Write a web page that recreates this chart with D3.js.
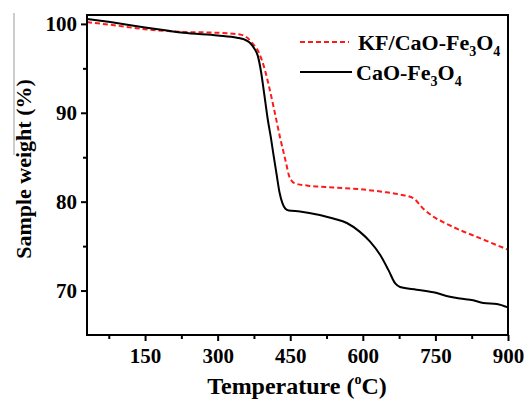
<!DOCTYPE html>
<html lang="en">
<head>
<meta charset="UTF-8">
<title>TGA</title>
<script src="https://d3js.org/d3.v7.min.js"></script>
<style>
  body { margin: 0; background: #fff; }
  text { font-family: "Liberation Serif", "Times New Roman", serif; font-weight: bold; }
</style>
</head>
<body>
<svg id="canvas" width="527" height="399"></svg>
<script>
// temperature (C) and weight (%)
const tempCaO = [30, 78, 150, 195, 229, 300, 340, 355, 366, 376, 383, 390, 396, 404, 410, 415, 422, 428, 434, 440, 447, 470, 511, 539, 567, 594, 615, 636, 653, 667, 677, 711, 746, 780, 801, 828, 849, 877, 900];
const wtCaO   = [100.56, 100.2, 99.6, 99.25, 99.0, 98.7, 98.45, 98.25, 97.9, 97.2, 96.4, 94.5, 92.2, 89.1, 87.2, 85.4, 83.0, 81.0, 79.8, 79.2, 79.0, 78.9, 78.5, 78.1, 77.6, 76.6, 75.5, 74.0, 72.3, 70.8, 70.4, 70.1, 69.8, 69.3, 69.1, 68.9, 68.6, 68.5, 68.1];
const tempKF  = [30, 78, 150, 229, 300, 346, 362, 372, 385, 398, 406, 414, 422, 429, 436, 442, 447, 452, 460, 487, 539, 594, 642, 677, 704, 725, 746, 766, 801, 842, 877, 900];
const wtKF    = [100.2, 99.9, 99.4, 99.1, 99.0, 98.8, 98.4, 97.8, 96.8, 94.75, 93.0, 91.05, 89.0, 87.2, 85.6, 84.2, 83.0, 82.4, 82.05, 81.8, 81.6, 81.4, 81.1, 80.8, 80.4, 79.2, 78.3, 77.7, 76.8, 75.9, 75.1, 74.6];

const xTicks = [150, 300, 450, 600, 750, 900];
const xMinor = [75, 225, 375, 525, 675, 825];
const yTicks = [70, 80, 90, 100];
const yMinor = [75, 85, 95];

const svg = d3.select("#canvas");
const L = 87, T = 15, R = 508, B = 335;

const x = d3.scaleLinear().domain([30, 900]).range([L, R]);
const y = d3.scaleLinear().domain([65, 101]).range([B, T]);

// odd grey artefact line on the left of the scan
svg.append("line").attr("x1", 14).attr("x2", 14).attr("y1", 13).attr("y2", 155)
  .attr("stroke", "#999").attr("stroke-width", 1);

svg.append("g").attr("transform", "translate(0," + B + ")")
  .call(d3.axisBottom(x).tickValues(xTicks).tickSize(6).tickSizeOuter(0).tickPadding(7));
svg.append("g").attr("transform", "translate(0," + B + ")")
  .call(d3.axisBottom(x).tickValues(xMinor).tickSize(4).tickFormat("").tickSizeOuter(0));

svg.append("g").attr("transform", "translate(" + L + ",0)")
  .call(d3.axisLeft(y).tickValues(yTicks).tickSize(6).tickSizeOuter(0).tickPadding(4));
svg.append("g").attr("transform", "translate(" + L + ",0)")
  .call(d3.axisLeft(y).tickValues(yMinor).tickSize(4).tickFormat("").tickSizeOuter(0));

svg.selectAll(".tick line").attr("stroke", "#000").attr("stroke-width", 2);
svg.selectAll(".domain").remove();
svg.selectAll(".tick text").attr("font-size", 21).attr("fill", "#000")
  .attr("font-family", "Liberation Serif").attr("font-weight", "bold");

const line = d3.line().x(d => x(d[0])).y(d => y(d[1])).curve(d3.curveMonotoneX);

svg.append("path").datum(d3.zip(tempKF, wtKF))
  .attr("d", line).attr("fill", "none").attr("stroke", "#ff1a1a")
  .attr("stroke-width", 2).attr("stroke-dasharray", "5,3");
svg.append("path").datum(d3.zip(tempCaO, wtCaO))
  .attr("d", line).attr("fill", "none").attr("stroke", "#000")
  .attr("stroke-width", 2);

svg.append("rect").attr("x", L).attr("y", T).attr("width", R - L).attr("height", B - T)
  .attr("fill", "none").attr("stroke", "#000").attr("stroke-width", 2);

// legend
svg.append("line").attr("x1", 300).attr("x2", 349).attr("y1", 42).attr("y2", 42)
  .attr("stroke", "#ff1a1a").attr("stroke-width", 2).attr("stroke-dasharray", "5,3");
const t1 = svg.append("text").attr("x", 358).attr("y", 50).attr("font-size", 22);
t1.append("tspan").text("KF/CaO-Fe");
t1.append("tspan").attr("font-size", 14).attr("dy", 6).text("3");
t1.append("tspan").attr("dy", -6).text("O");
t1.append("tspan").attr("font-size", 14).attr("dy", 6).text("4");

svg.append("line").attr("x1", 300).attr("x2", 352).attr("y1", 72).attr("y2", 72)
  .attr("stroke", "#000").attr("stroke-width", 2);
const t2 = svg.append("text").attr("x", 356).attr("y", 80).attr("font-size", 22);
t2.append("tspan").text("CaO-Fe");
t2.append("tspan").attr("font-size", 14).attr("dy", 6).text("3");
t2.append("tspan").attr("dy", -6).text("O");
t2.append("tspan").attr("font-size", 14).attr("dy", 6).text("4");

// axis titles
const xt = svg.append("text").attr("x", 297).attr("y", 394).attr("text-anchor", "middle").attr("font-size", 24);
xt.append("tspan").text("Temperature (");
xt.append("tspan").attr("font-size", 14).attr("dy", -10).text("o");
xt.append("tspan").attr("dy", 10).text("C)");

svg.append("text").attr("transform", "translate(31,169) rotate(-90)")
  .attr("text-anchor", "middle").attr("font-size", 22).text("Sample weight (%)");
</script>
</body>
</html>
